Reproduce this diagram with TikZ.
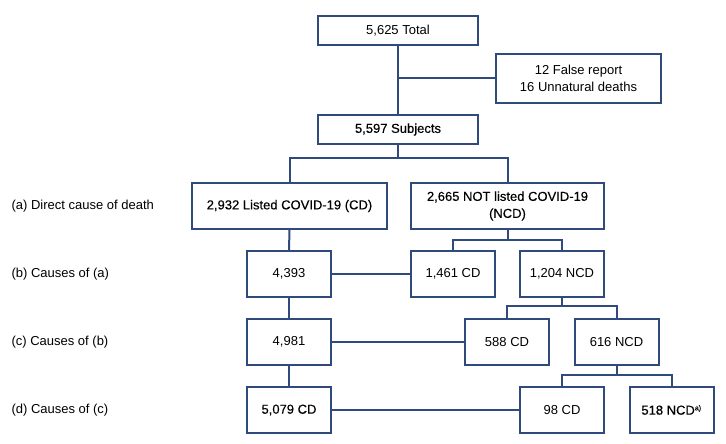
\documentclass[tikz,border=0pt]{standalone}
\usepackage{fontspec}
\setmainfont{Liberation Sans}
\newfontfamily\medfont[FakeBold=0.35]{Liberation Sans}
\definecolor{navy}{HTML}{2F4A7C}
\begin{document}
\begin{tikzpicture}[x=1pt,y=-1pt,
  box/.style={draw=navy,line width=2pt,minimum width=#1,minimum height=46pt,inner sep=2pt,align=center,font=\fontsize{13}{17}\selectfont},
  box/.default=84pt,
  lab/.style={anchor=west,font=\fontsize{13}{16}\selectfont},
  link/.style={draw=navy,line width=2pt}]
\useasboundingbox (0,0) rectangle (726,444);
\node[box=160pt,minimum height=29pt] (total) at (398,30.5) {5,625 Total};
\node[box=165pt,minimum height=49pt] (false) at (578.5,78.5) {12 False report\\16 Unnatural deaths};
\node[box=160pt,minimum height=29pt] (subj) at (398,129.5) {\medfont 5,597 Subjects};
\node[box=195pt] (cd) at (289.5,206) {\medfont 2,932 Listed COVID-19 (CD)};
\node[box=193pt] (ncd) at (507.5,206) {\medfont 2,665 NOT listed COVID-19\\\medfont (NCD)};
\node[box] (b1) at (289,274) {4,393};
\node[box] (b2) at (453,274) {1,461 CD};
\node[box] (b3) at (562,274) {1,204 NCD};
\node[box] (c1) at (289,342) {4,981};
\node[box] (c2) at (507,342) {588 CD};
\node[box] (c3) at (616.5,342) {616 NCD};
\node[box] (d1) at (289,410) {\medfont 5,079 CD};
\node[box] (d2) at (562,410) {98 CD};
\node[box] (d3) at (671.5,410) {\medfont 518 NCD\textsuperscript{\scriptsize a)}};
\node[lab] (la) at (8,206) {(a) Direct cause of death};
\node[lab] (lb) at (8,274) {(b) Causes of (a)};
\node[lab] (lc) at (8,342) {(c) Causes of (b)};
\node[lab] (ld) at (8,410) {(d) Causes of (c)};
\coordinate (j0) at (398,158);
\coordinate (j1) at (507.5,240);
\coordinate (j2) at (562,306);
\coordinate (j3) at (616.5,375);
\path[link] (total.south) -- (subj.north);
\path[link] (false.west) -- (false.west -| total.south);
\path[link] (subj.south) -- (j0);
\path[link] (cd.north) |- (j0) -| (ncd.north);
\path[link] (cd.south) -- (b1.north);
\path[link] (ncd.south) -- (j1);
\path[link] (b2.north) |- (j1) -| (b3.north);
\path[link] (b1.east) -- (b2.west);
\path[link] (b1.south) -- (c1.north);
\path[link] (b3.south) -- (j2);
\path[link] (c2.north) |- (j2) -| (c3.north);
\path[link] (c1.east) -- (c2.west);
\path[link] (c1.south) -- (d1.north);
\path[link] (c3.south) -- (j3);
\path[link] (d2.north) |- (j3) -| (d3.north);
\path[link] (d1.east) -- (d2.west);
\end{tikzpicture}
\end{document}
